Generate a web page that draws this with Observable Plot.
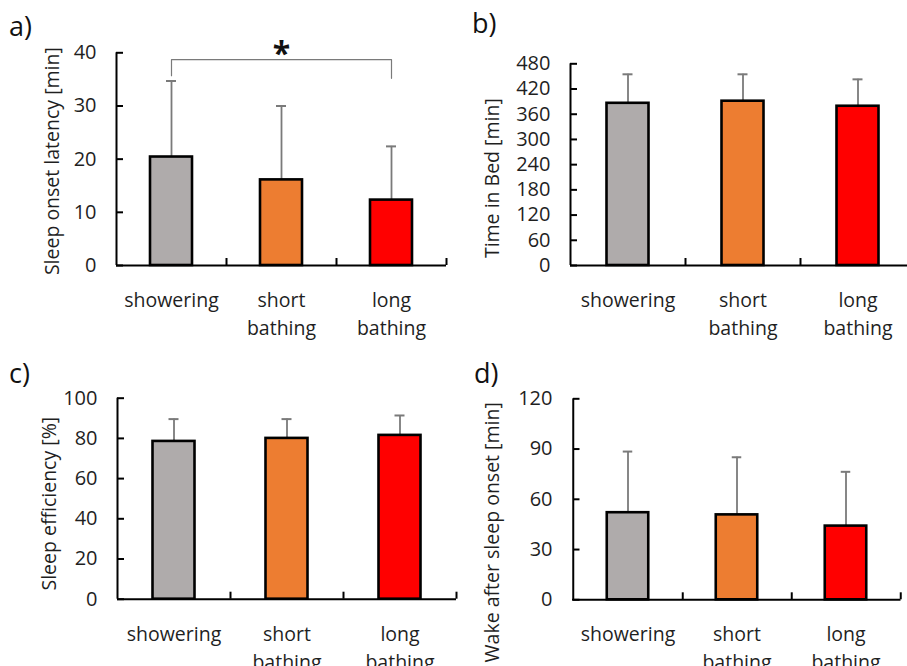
<!DOCTYPE html>
<html>
<head>
<meta charset="utf-8">
<script src="https://cdn.jsdelivr.net/npm/d3@7"></script>
<script src="https://cdn.jsdelivr.net/npm/@observablehq/plot@0.6"></script>
<style>
  html, body { margin: 0; padding: 0; background: white; }
  #root { position: relative; width: 907px; height: 666px; overflow: hidden; background: white; font-family: "Open Sans", sans-serif; }
  .panel { position: absolute; }
  .tag { position: absolute; font-size: 27px; color: #111; line-height: 1; }
</style>
</head>
<body>
<div id="root"></div>
<script>
// ---- data ----
const categories = ["showering", "short bathing", "long bathing"];
const categoryLabels = ["showering", "short\nbathing", "long\nbathing"];
const barColors = ["#AFABAB", "#ED7D31", "#FF0000"];

const latencyMean = [20.4, 16.1, 12.3];
const latencySD = [14.3, 13.9, 10.1];
const latencyTicks = [0, 10, 20, 30, 40];

const tibMean = [386, 391, 379];
const tibSD = [69, 64, 64];
const tibTicks = [0, 60, 120, 180, 240, 300, 360, 420, 480];

const effMean = [78.5, 80.0, 81.5];
const effSD = [11.1, 9.6, 9.9];
const effTicks = [0, 20, 40, 60, 80, 100];

const wasoMean = [52.0, 50.7, 44.0];
const wasoSD = [36.5, 34.4, 32.4];
const wasoTicks = [0, 30, 60, 90, 120];

// significance bracket (panel a)
const bracketX = ["showering", "showering", "long bathing", "long bathing"];
const bracketY = [35.7, 38.7, 38.7, 35.2];
const bracketLabel = "*";

// ---- helpers ----
function panel({mean, sd, ticks, label, left, top, width, height, ml, mt, mb, bw, labelDx, labelDy, extra = []}) {
  const data = categories.map((c, i) => ({cat: c, mean: mean[i], top: mean[i] + sd[i], color: barColors[i], lab: categoryLabels[i]}));
  const yMax = ticks[ticks.length - 1];
  const plotH = height - mt - mb;
  const barW = 42;
  const inset = (bw - barW) / 2;
  const capInset = (bw - 10) / 2;
  const chart = Plot.plot({
    width, height,
    marginLeft: ml, marginTop: mt, marginBottom: mb, marginRight: width - ml - 3 * bw,
    style: {fontFamily: "Open Sans", fontSize: "19px", color: "#262626", background: "transparent", overflow: "visible", maxWidth: "none"},
    x: {domain: categories, padding: 0, axis: null},
    y: {domain: [0, yMax], axis: null},
    marks: [
      Plot.ruleX(data, {x: "cat", y1: "mean", y2: "top", stroke: "#7a7a7a", strokeWidth: 1.8}),
      Plot.tickY(data, {x: "cat", y: "top", insetLeft: capInset, insetRight: capInset, stroke: "#7a7a7a", strokeWidth: 2}),
      Plot.barY(data, {x: "cat", y: "mean", fill: "color", stroke: "black", strokeWidth: 2.6, insetLeft: inset, insetRight: inset}),
      Plot.ruleY([0], {stroke: "black", strokeWidth: 2}),
      Plot.ruleX([categories[0]], {x: d => d, y1: 0, y2: yMax, dx: -bw / 2, stroke: "black", strokeWidth: 2}),
      Plot.tickY(ticks, {y: d => d, x: () => categories[0], insetRight: bw - 7, stroke: "black", strokeWidth: 2}),
      Plot.ruleX(categories, {x: d => d, y1: 0, y2: yMax * 7 / plotH, dx: bw / 2, stroke: "black", strokeWidth: 2}),
      Plot.axisY({ticks, tickSize: 0, tickPadding: 20, label: null, fontSize: 20, fill: "#1f1f1f"}),
      Plot.text(data, {x: "cat", frameAnchor: "bottom", text: "lab", lineAnchor: "top", dy: 22, lineHeight: 1.42, fontSize: 19.5, fill: "#1f1f1f"}),
      Plot.text([label], {frameAnchor: "left", rotate: -90, dx: labelDx, dy: labelDy, fontSize: 19.5, textAnchor: "middle", lineAnchor: "middle", fill: "#1f1f1f"}),
      ...extra
    ]
  });
  const div = document.createElement("div");
  div.className = "panel";
  div.style.left = left + "px";
  div.style.top = top + "px";
  div.appendChild(chart);
  return div;
}

function tag(text, left, top) {
  const d = document.createElement("div");
  d.className = "tag";
  d.textContent = text;
  d.style.left = left + "px";
  d.style.top = top + "px";
  return d;
}

const root = document.getElementById("root");

const bracketData = bracketX.map((x, i) => ({x, y: bracketY[i]}));

root.appendChild(panel({
  mean: latencyMean, sd: latencySD, ticks: latencyTicks, label: "Sleep onset latency [min]",
  left: 0, top: 0, width: 450, height: 340, ml: 116, mt: 52.3, mb: 75, bw: 110, labelDx: -64, labelDy: 2,
  extra: [
    Plot.line(bracketData, {x: "x", y: "y", stroke: "#7a7a7a", strokeWidth: 1.2}),
    Plot.text([bracketLabel], {x: () => categories[1], y: () => bracketY[1], dy: -5, fontSize: 32, fontWeight: "bold", fill: "#111"})
  ]
}));
root.appendChild(panel({
  mean: tibMean, sd: tibSD, ticks: tibTicks, label: "Time in Bed [min]",
  left: 450, top: 0, width: 465, height: 340, ml: 120, mt: 63.3, mb: 75, bw: 115, labelDx: -77.5, labelDy: 13.5
}));
root.appendChild(panel({
  mean: effMean, sd: effSD, ticks: effTicks, label: "Sleep efficiency [%]",
  left: 0, top: 330, width: 456, height: 336, ml: 117, mt: 67.7, mb: 67.3, bw: 113, labelDx: -68, labelDy: 5
}));
root.appendChild(panel({
  mean: wasoMean, sd: wasoSD, ticks: wasoTicks, label: "Wake after sleep onset [min]",
  left: 450, top: 330, width: 451, height: 336, ml: 122, mt: 68.3, mb: 66.7, bw: 109.5, labelDx: -80, labelDy: 33
}));

root.appendChild(tag("a)", 9, 12));
root.appendChild(tag("b)", 472, 9));
root.appendChild(tag("c)", 9, 359));
root.appendChild(tag("d)", 474, 359));
</script>
</body>
</html>
